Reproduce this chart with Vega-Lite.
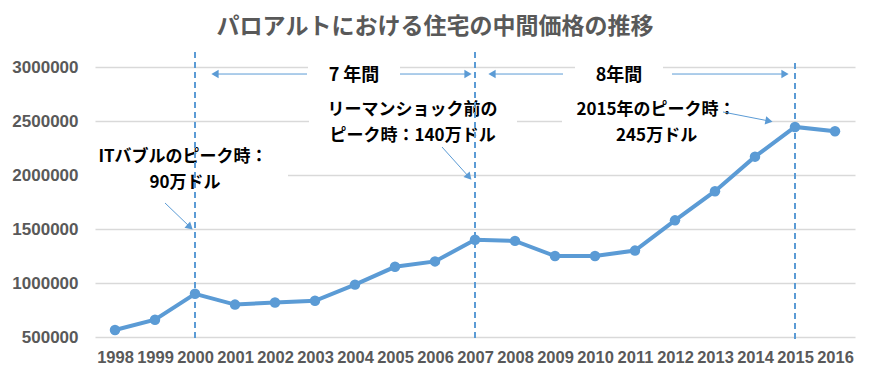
{
  "$schema": "https://vega.github.io/schema/vega-lite/v6.json",
  "width": 760,
  "height": 270,
  "autosize": {"type": "none"},
  "padding": {"left": 95, "top": 67, "right": 15, "bottom": 38},
  "background": "white",
  "title": {
    "text": "パロアルトにおける住宅の中間価格の推移",
    "font": "Noto Sans CJK JP",
    "fontSize": 23,
    "fontWeight": "bold",
    "color": "#595959",
    "anchor": "middle",
    "dx": -40,
    "offset": 12
  },
  "config": {
    "view": {"stroke": null},
    "font": "Noto Sans CJK JP"
  },
  "datasets": {
    "prices": [
      {"year": 1998, "price": 565000},
      {"year": 1999, "price": 660000},
      {"year": 2000, "price": 900000},
      {"year": 2001, "price": 800000},
      {"year": 2002, "price": 820000},
      {"year": 2003, "price": 835000},
      {"year": 2004, "price": 985000},
      {"year": 2005, "price": 1150000},
      {"year": 2006, "price": 1200000},
      {"year": 2007, "price": 1400000},
      {"year": 2008, "price": 1390000},
      {"year": 2009, "price": 1250000},
      {"year": 2010, "price": 1250000},
      {"year": 2011, "price": 1300000},
      {"year": 2012, "price": 1580000},
      {"year": 2013, "price": 1850000},
      {"year": 2014, "price": 2170000},
      {"year": 2015, "price": 2445000},
      {"year": 2016, "price": 2405000}
    ],
    "masks": [
      {"x": 1997.5, "x2": 2002.325, "y": 2277778, "y2": 1814815},
      {"x": 2002.825, "x2": 2005.125, "y": 3083333, "y2": 2787037},
      {"x": 2002.85, "x2": 2008.05, "y": 2740741, "y2": 2231481},
      {"x": 2009.5, "x2": 2011.7, "y": 3083333, "y2": 2787037},
      {"x": 2009.175, "x2": 2014.375, "y": 2740741, "y2": 2231481}
    ],
    "vlines": [
      {"x": 2000, "y": 3138889, "y2": 472222},
      {"x": 2007, "y": 3138889, "y2": 472222},
      {"x": 2015, "y": 3037037, "y2": 472222}
    ],
    "arrowlines": [
      {"x": 2000.5, "x2": 2002.8, "y": 2935000, "y2": 2935000},
      {"x": 2005.125, "x2": 2006.825, "y": 2935000, "y2": 2935000},
      {"x": 2007.425, "x2": 2009.2, "y": 2935000, "y2": 2935000},
      {"x": 2011.925, "x2": 2014.75, "y": 2935000, "y2": 2935000},
      {"x": 1999.25, "x2": 1999.875, "y": 1740741, "y2": 1518519},
      {"x": 2006.175, "x2": 2006.85, "y": 2259259, "y2": 1981481},
      {"x": 2013.2, "x2": 2014.35, "y": 2583333, "y2": 2500000}
    ],
    "heads": [
      {"x": 2000.5, "y": 2935000, "angle": 270},
      {"x": 2006.825, "y": 2935000, "angle": 90},
      {"x": 2007.425, "y": 2935000, "angle": 270},
      {"x": 2014.75, "y": 2935000, "angle": 90},
      {"x": 1999.875, "y": 1518519, "angle": 132},
      {"x": 2006.85, "y": 1981481, "angle": 138},
      {"x": 2014.35, "y": 2500000, "angle": 101}
    ],
    "labels": [
      {"x": 2003.975, "y": 2916667, "text": "7 年間", "size": 18},
      {"x": 2010.6, "y": 2916667, "text": "8年間", "size": 18},
      {"x": 2005.44, "y": 2601852, "text": "リーマンショック前の", "size": 17},
      {"x": 2005.44, "y": 2361111, "text": "ピーク時：140万ドル", "size": 17},
      {"x": 1999.7, "y": 2166667, "text": "ITバブルのピーク時：", "size": 17},
      {"x": 1999.75, "y": 1925926, "text": "90万ドル", "size": 17},
      {"x": 2011.525, "y": 2601852, "text": "2015年のピーク時：", "size": 17},
      {"x": 2011.54, "y": 2361111, "text": "245万ドル", "size": 17}
    ]
  },
  "layer": [
    {
      "data": {"name": "prices"},
      "mark": {"type": "line", "color": "#5B9BD5", "strokeWidth": 4, "opacity": 0},
      "encoding": {
        "x": {
          "field": "year", "type": "quantitative",
          "scale": {"domain": [1997.5, 2016.5], "nice": false, "zero": false},
          "axis": {
            "title": null, "values": [1998,1999,2000,2001,2002,2003,2004,2005,2006,2007,2008,2009,2010,2011,2012,2013,2014,2015,2016],
            "format": "d", "grid": false, "domain": false, "ticks": false,
            "labelFont": "Liberation Sans", "labelFontSize": 16.5, "labelFontWeight": "bold",
            "labelColor": "#595959", "labelPadding": 12, "labelOverlap": false, "labelFlush": false
          }
        },
        "y": {
          "field": "price", "type": "quantitative",
          "scale": {"domain": [500000, 3000000], "nice": false, "zero": false},
          "axis": {
            "title": null, "values": [500000, 1000000, 1500000, 2000000, 2500000, 3000000],
            "format": "d", "grid": true, "gridColor": "#D9D9D9", "gridWidth": 1.5,
            "domain": false, "ticks": false,
            "labelFont": "Liberation Sans", "labelFontSize": 17, "labelFontWeight": "bold",
            "labelColor": "#595959", "labelPadding": 17
          }
        }
      }
    },
    {
      "data": {"name": "masks"},
      "mark": {"type": "rect", "color": "white"},
      "encoding": {
        "x": {"field": "x", "type": "quantitative", "axis": {"title": null}},
        "x2": {"field": "x2"},
        "y": {"field": "y", "type": "quantitative", "axis": {"title": null}},
        "y2": {"field": "y2"}
      }
    },
    {
      "data": {"name": "labels"},
      "mark": {"type": "text", "font": "Noto Sans CJK JP", "fontWeight": "bold", "color": "black", "baseline": "middle", "align": "center"},
      "encoding": {
        "x": {"field": "x", "type": "quantitative", "axis": {"title": null}},
        "y": {"field": "y", "type": "quantitative", "axis": {"title": null}},
        "text": {"field": "text"},
        "size": {"field": "size", "type": "quantitative", "scale": null}
      }
    },
    {
      "data": {"name": "vlines"},
      "mark": {"type": "rule", "color": "#5B9BD5", "strokeWidth": 2, "strokeDash": [6, 4]},
      "encoding": {
        "x": {"field": "x", "type": "quantitative", "axis": {"title": null}},
        "y": {"field": "y", "type": "quantitative", "axis": {"title": null}},
        "y2": {"field": "y2"}
      }
    },
    {
      "data": {"name": "arrowlines"},
      "mark": {"type": "rule", "color": "#5B9BD5", "strokeWidth": 1},
      "encoding": {
        "x": {"field": "x", "type": "quantitative", "axis": {"title": null}},
        "x2": {"field": "x2"},
        "y": {"field": "y", "type": "quantitative", "axis": {"title": null}},
        "y2": {"field": "y2"}
      }
    },
    {
      "data": {"name": "heads"},
      "mark": {"type": "point", "shape": "triangle-up", "filled": true, "color": "#5B9BD5", "opacity": 1, "size": 70},
      "encoding": {
        "x": {"field": "x", "type": "quantitative", "axis": {"title": null}},
        "y": {"field": "y", "type": "quantitative", "axis": {"title": null}},
        "angle": {"field": "angle", "type": "quantitative", "scale": null}
      }
    },
    {
      "data": {"name": "prices"},
      "mark": {"type": "line", "color": "#5B9BD5", "strokeWidth": 4, "point": {"filled": true, "size": 110, "color": "#5B9BD5"}},
      "encoding": {
        "x": {"field": "year", "type": "quantitative", "axis": {"title": null}},
        "y": {"field": "price", "type": "quantitative", "axis": {"title": null}}
      }
    }
  ]
}
